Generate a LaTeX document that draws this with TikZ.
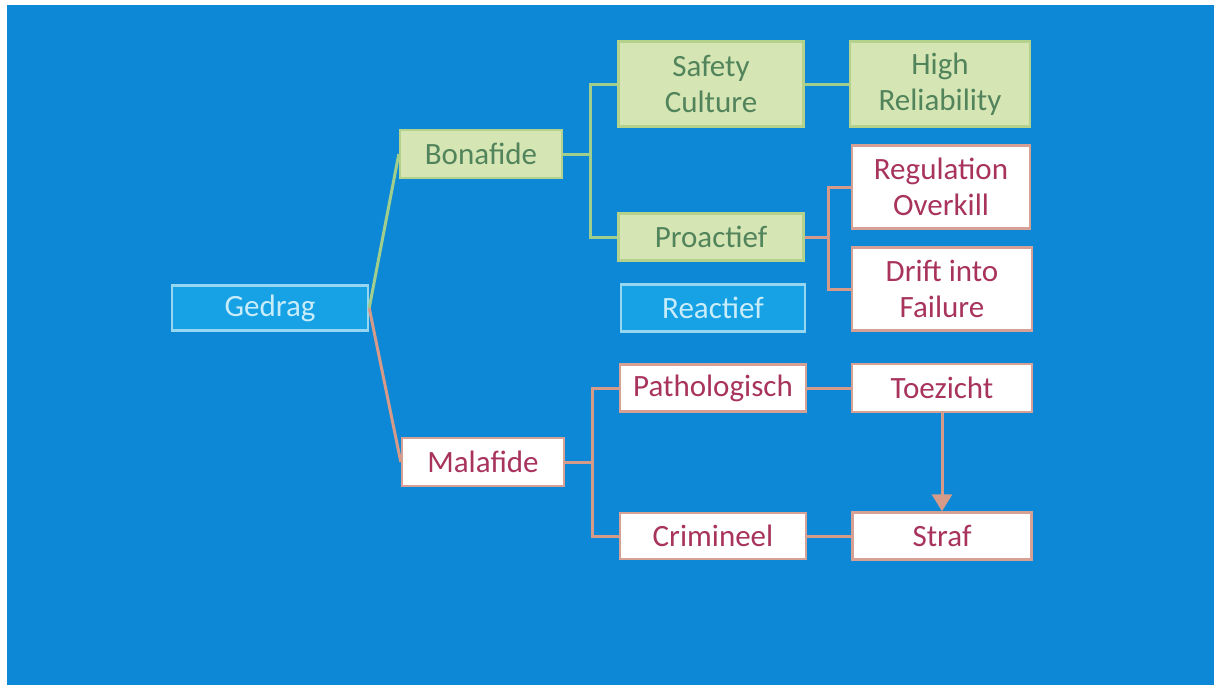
\documentclass[tikz,border=0pt]{standalone}
\usepackage{fontspec}
\setmainfont{Carlito}
\usetikzlibrary{arrows.meta}
\definecolor{bg}{RGB}{12,136,214}
\definecolor{gfill}{RGB}{214,229,180}
\definecolor{gdraw}{RGB}{180,210,140}
\definecolor{gtext}{RGB}{82,132,92}
\definecolor{gline}{RGB}{160,206,140}
\definecolor{ptext}{RGB}{168,52,94}
\definecolor{pdraw}{RGB}{214,160,148}
\definecolor{pline}{RGB}{214,154,136}
\definecolor{lfill}{RGB}{22,162,228}
\definecolor{ldraw}{RGB}{150,214,240}
\definecolor{ltext}{RGB}{200,236,250}
\begin{document}
\begin{tikzpicture}[x=1pt,y=-1pt,
  box/.style={rectangle,inner sep=0pt,line width=2.4pt,align=center,
    font=\fontsize{31}{36}\selectfont},
  gbox/.style={box,fill=gfill,draw=gdraw,text=gtext},
  pbox/.style={box,fill=white,draw=pdraw,text=ptext},
  lbox/.style={box,fill=lfill,draw=ldraw,text=ltext},
  gl/.style={draw=gline,line width=3pt},
  pl/.style={draw=pline,line width=3pt}]
\useasboundingbox (0,0) rectangle (1214,685);
\fill[white] (0,0) rectangle (1214,685);
\fill[bg] (7,5) rectangle (1214,685);
% nodes
\node[lbox,minimum width=196pt,minimum height=45pt] (G) at (270,308) {Gedrag};
\node[gbox,minimum width=162pt,minimum height=48pt] (B) at (481,154) {Bonafide};
\node[pbox,minimum width=162pt,minimum height=48pt] (M) at (483,462) {Malafide};
\node[gbox,minimum width=185pt,minimum height=85pt] (SC) at (711,84) {Safety\\Culture};
\node[gbox,minimum width=180pt,minimum height=85pt] (HR) at (940,84) {High\\Reliability};
\node[gbox,minimum width=185pt,minimum height=47pt] (PA) at (711,237) {Proactief};
\node[lbox,minimum width=184pt,minimum height=47pt] (RA) at (713,308) {Reactief};
\node[pbox,minimum width=178pt,minimum height=83pt] (RO) at (941,187) {Regulation\\Overkill};
\node[pbox,minimum width=180pt,minimum height=83pt] (DF) at (942,289) {Drift into\\Failure};
\node[pbox,minimum width=186pt,minimum height=47pt] (PT) at (713,388) {Pathologisch};
\node[pbox,minimum width=180pt,minimum height=48pt] (TZ) at (942,388) {Toezicht};
\node[pbox,minimum width=186pt,minimum height=46pt] (CR) at (713,536) {Crimineel};
\node[pbox,minimum width=179pt,minimum height=47pt] (ST) at (942,536) {Straf};
% connectors
\coordinate (jB) at (590,154);
\coordinate (jP) at (828,237);
\coordinate (jM) at (592,462);
\draw[gl] (G.east) -- (B.west);
\draw[pl] (G.east) -- (M.west);
\draw[gl] (B.east) -- (jB);
\draw[gl] (SC.west) -| (jB) |- (PA.west);
\draw[gl] (SC.east) -- (HR.west);
\draw[pl] (PA.east) -- (jP);
\draw[pl] (RO.west) -| (jP) |- (DF.west);
\draw[pl] (M.east) -- (jM);
\draw[pl] (PT.west) -| (jM) |- (CR.west);
\draw[pl] (PT.east) -- (TZ.west);
\draw[pl] (CR.east) -- (ST.west);
\draw[pl,-{Triangle[length=17pt,width=20pt]}] (TZ.south) -- (ST.north);
\end{tikzpicture}
\end{document}
